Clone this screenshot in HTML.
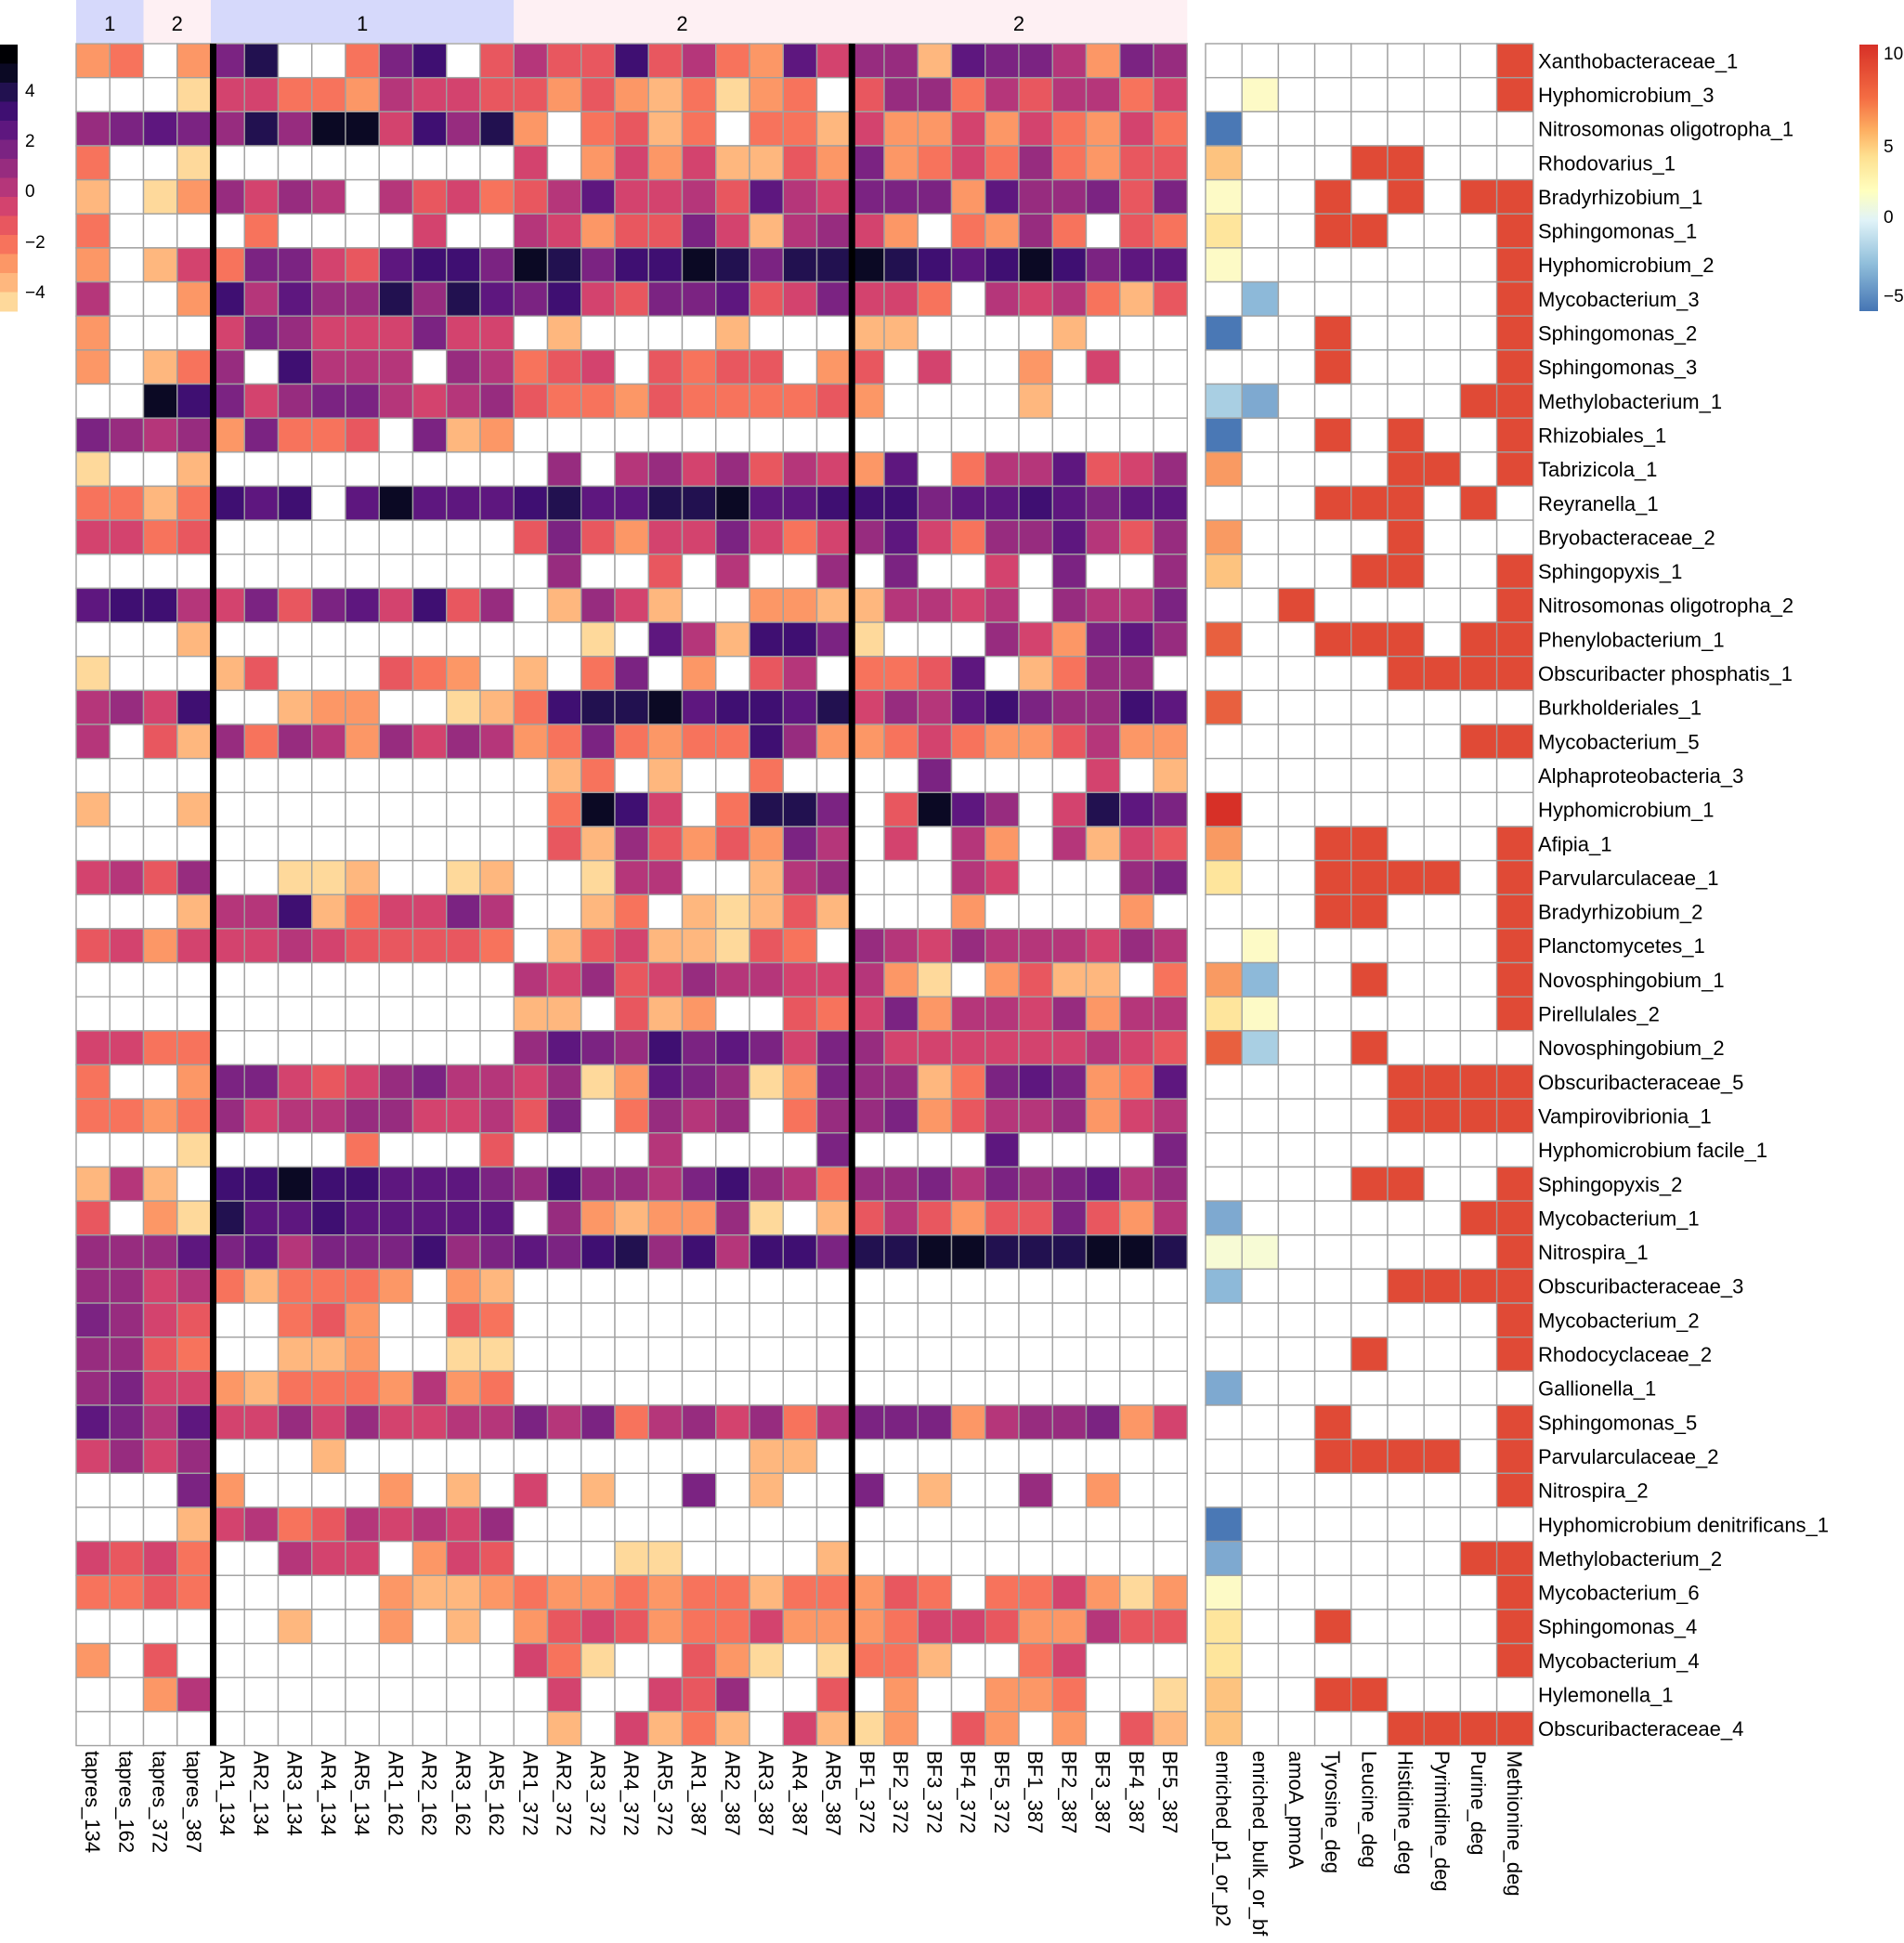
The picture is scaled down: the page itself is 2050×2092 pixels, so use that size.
<!DOCTYPE html>
<html><head><meta charset="utf-8"><style>
html,body{margin:0;padding:0;background:#fff;}
svg{display:block;font-family:"Liberation Sans",Arial,sans-serif;}
</style></head><body>
<div id="wrap"></div>
<script>
(function(){
var P={'0':'#0b0924','1':'#221150','2':'#3f0f72','3':'#5e177f','4':'#7b2382','5':'#972c7f','6':'#b5367a','7':'#d3436e','8':'#e8575f','9':'#f7735c','a':'#fc9766','b':'#feb77e','c':'#fed99b','W':'#ffffff'};
var W10="WWWWWWWWWW",W20=W10+W10;
var R=[
"a9Wa41WW942W86882869a3755b3446a45",
"WWWc7799a67788a8ab9ca9W8559686697",
"5434515007251aW98b9W99b7aa7a79a79",
"9WWcWWWWWWWWW7Wa7a7bb8a4a97959a88",
"bWca5756W68798637768367444a355484",
"9WWWW9WWWW7WW67a8847b657aW9a59W89",
"aWb794478322401422014110123202433",
"6WWa2635515134278443874779W6769b8",
"aWWW745777477WbWWWWbWWWbbWWWWbWWW",
"aWb95W2666W56987W8988Wa8W7WWaW7WW",
"WW02475446765899a899998aWWWWbWWWW",
"4565a4998W4ba"+W20,
"cWWbWWWWWWWWWW5W6575867a3W9663875",
"99b9232W3033321331103322243323433",
"7798WWWWWWWWW848a7747975379553685",
"WWWWWWWWWWWWWW5WW8W6WW5W4WW7W4WW5",
"3226748437285Wb57bWWaabb6676W5664",
"WWWbWWWWWWWWWWWcW36b224cWWW57a435",
"cWWWb8WWW89aWbW94WaW86W9983Wb955W",
"6572WWbaaWWcb92110322317563245523",
"6W8b5956a5756a949a9925aa979aa86aa",
"WWWWWWWWWWWWWWb9WbWW9WWWW4WWWW7Wb",
"bWWbWWWWWWWWWW9027W9114W8035W7134",
"WWWWWWWWWWWWWW8b58a8a46W7W6aW6b78",
"7685WWccbWWcbWWc66WWb65WWW67WWW54",
"WWWb662b97746WWb9Wbcb8bWWWaWWWWaW",
"87a7776788889Wb87bbc89W5675666756",
"WWWWWWWWWWWWW67587566776acWa8bbW9",
"WWWWWWWWWWWWWbbW8baWW8974a6675a66",
"7799WWWWWWWWW53452434745777777678",
"9WWa44787546675ca345ca455b9434a93",
"99a957665577684W9565W9554a8665a76",
"WWWcWWWW9WWW8WWWW6WWWW4WWWW3WWWW4",
"b6bW22022333452556425695546454365",
"8Wac133233333W5abaa5cWb868a8848a6",
"555343644425434215262241100111001",
"55769b999aWab"+W20,
"4578WW98aWW89"+W20,
"5589WWbbaWWcc"+W20,
"5477ab999a6a9"+W20,
"34637757577664649657596444a6554a7",
"7575WWWbWWWWWWWWWWWWbbW"+W10,
"WWW4aWWWWaWbW7WbWW4WbWW4WbWW5WaWW",
"WWWb769867675"+W20,
"7879WW677Wa78WWWccWWWWb"+W10,
"9989WWWWWabba9aa9a99b99a89W997aca",
"WWWWWWbWWaWbWa878a997aaa9778aa688",
"aW8WWWWWWWWWW79cWW8acWc99bWW97WWW",
"WWa6WWWWWWWWWW7WW785WW8WaWWaa9WWc",
"WWWWWWWWWWWWWWbW7b9bW7bcaW8aWaW8b"];
var A=["WW0000001","WP0000001","BW0000000","OW0011000","PW0101011","YW0110001","PW0000001","WL0000001","BW0100001","WW0100001",
"MK0000011","BW0101001","oW0001101","WW0111010","oW0001000","OW0011001","WW1000001","rW0111011","WW0001111","rW0000000",
"WW0000011","WW0000000","RW0000000","oW0110001","YW0111101","WW0110001","WP0000001","oL0010001","YP0000001","rM0010000",
"WW0001111","WW0001111","WW0000000","WW0011001","KW0000011","QQ0000001","LW0001111","WW0000001","WW0010001","KW0000000",
"WW0100001","WW0111101","WW0000001","BW0000000","KW0000011","PW0000001","YW0100001","YW0000001","OW0110000","OW0001111"];
var AC={'W':'#ffffff','B':'#4a78b5','L':'#8db9d9','M':'#a9cfe3','K':'#7ea9d0','P':'#fdfac6','Y':'#fee59c','O':'#fdc37f','o':'#f99a62','r':'#e8603f','R':'#d73027','Q':'#f7fbd5','0':'#ffffff','1':'#e04a36'};
var rows=["Xanthobacteraceae_1","Hyphomicrobium_3","Nitrosomonas oligotropha_1","Rhodovarius_1","Bradyrhizobium_1","Sphingomonas_1","Hyphomicrobium_2","Mycobacterium_3","Sphingomonas_2","Sphingomonas_3","Methylobacterium_1","Rhizobiales_1","Tabrizicola_1","Reyranella_1","Bryobacteraceae_2","Sphingopyxis_1","Nitrosomonas oligotropha_2","Phenylobacterium_1","Obscuribacter phosphatis_1","Burkholderiales_1","Mycobacterium_5","Alphaproteobacteria_3","Hyphomicrobium_1","Afipia_1","Parvularculaceae_1","Bradyrhizobium_2","Planctomycetes_1","Novosphingobium_1","Pirellulales_2","Novosphingobium_2","Obscuribacteraceae_5","Vampirovibrionia_1","Hyphomicrobium facile_1","Sphingopyxis_2","Mycobacterium_1","Nitrospira_1","Obscuribacteraceae_3","Mycobacterium_2","Rhodocyclaceae_2","Gallionella_1","Sphingomonas_5","Parvularculaceae_2","Nitrospira_2","Hyphomicrobium denitrificans_1","Methylobacterium_2","Mycobacterium_6","Sphingomonas_4","Mycobacterium_4","Hylemonella_1","Obscuribacteraceae_4"];
var cols=["tapres_134","tapres_162","tapres_372","tapres_387","AR1_134","AR2_134","AR3_134","AR4_134","AR5_134","AR1_162","AR2_162","AR3_162","AR5_162","AR1_372","AR2_372","AR3_372","AR4_372","AR5_372","AR1_387","AR2_387","AR3_387","AR4_387","AR5_387","BF1_372","BF2_372","BF3_372","BF4_372","BF5_372","BF1_387","BF2_387","BF3_387","BF4_387","BF5_387"];
var acols=["enriched_p1_or_p2","enriched_bulk_or_bf","amoA_pmoA","Tyrosine_deg","Leucine_deg","Histidine_deg","Pyrimidine_deg","Purine_deg","Methionine_deg"];
var X0=82,CW=36.25,Y0=47,RH=36.65,AX=1298,AW=39.2;
var h='<svg width="2050" height="2092" viewBox="0 0 2050 2092" xmlns="http://www.w3.org/2000/svg"><defs><linearGradient id="rg" x1="0" y1="0" x2="0" y2="1"><stop offset="0" stop-color="#d73027"/><stop offset="0.2" stop-color="#f46d43"/><stop offset="0.32" stop-color="#fdae61"/><stop offset="0.42" stop-color="#fee090"/><stop offset="0.55" stop-color="#ffffbf"/><stop offset="0.66" stop-color="#e0f3f8"/><stop offset="0.82" stop-color="#91bfdb"/><stop offset="1" stop-color="#4575b4"/></linearGradient></defs>';
function band(c0,c1,col){h+='<rect x="'+(X0+c0*CW)+'" y="0" width="'+((c1-c0)*CW)+'" height="46" fill="'+col+'"/>';}
band(0,2,'#d6d9fb');band(2,4,'#fef0f3');band(4,13,'#d6d9fb');band(13,33,'#fef0f3');
[[1,'1'],[3,'2'],[8.5,'1'],[18,'2'],[28,'2']].forEach(function(t){h+='<text x="'+(X0+t[0]*CW)+'" y="33" font-size="22" text-anchor="middle" fill="#000">'+t[1]+'</text>';});
for(var r=0;r<50;r++){var s=R[r];for(var c=0;c<33;c++){var ch=s.charAt(c)||'W';h+='<rect x="'+(X0+c*CW).toFixed(2)+'" y="'+(Y0+r*RH).toFixed(2)+'" width="'+CW+'" height="'+RH+'" fill="'+(P[ch]||'#fff')+'" stroke="#a0a0a0" stroke-width="1.4"/>';}
 var a=A[r];for(var k=0;k<9;k++){h+='<rect x="'+(AX+k*AW).toFixed(2)+'" y="'+(Y0+r*RH).toFixed(2)+'" width="'+AW+'" height="'+RH+'" fill="'+AC[a.charAt(k)]+'" stroke="#a0a0a0" stroke-width="1.4"/>';}
 h+='<text x="1656" y="'+(Y0+r*RH+RH/2+8).toFixed(1)+'" font-size="22" fill="#000">'+rows[r]+'</text>';}
h+='<rect x="'+(X0+4*CW-1)+'" y="'+Y0+'" width="7" height="'+(50*RH)+'" fill="#000"/>';
h+='<rect x="'+(X0+23*CW-2)+'" y="'+Y0+'" width="7" height="'+(50*RH)+'" fill="#000"/>';
for(var c=0;c<33;c++){var cx=X0+c*CW+CW/2-8;h+='<text transform="translate('+cx.toFixed(1)+',1885) rotate(90)" font-size="22" fill="#000">'+cols[c]+'</text>';}
for(var k=0;k<9;k++){var cx2=AX+k*AW+AW/2-8;h+='<text transform="translate('+cx2.toFixed(1)+',1885) rotate(90)" font-size="22" fill="#000">'+acols[k]+'</text>';}
var L=['#000004','#0b0924','#221150','#3f0f72','#5e177f','#7b2382','#972c7f','#b5367a','#d3436e','#e8575f','#f7735c','#fc9766','#feb77e','#fed99b'];
for(var i=0;i<14;i++){h+='<rect x="0" y="'+(48+i*20.5)+'" width="19" height="21" fill="'+L[i]+'"/>';}
[['4',97],['2',151],['0',205],['\u22122',260],['\u22124',314]].forEach(function(t){h+='<text x="27" y="'+(t[1]+7)+'" font-size="19" fill="#000">'+t[0]+'</text>';});
h+='<rect x="2002" y="48" width="20" height="287" fill="url(#rg)"/>';
[['10',57],['5',157],['0',233],['\u22125',318]].forEach(function(t){h+='<text x="2028" y="'+(t[1]+7)+'" font-size="19" fill="#000">'+t[0]+'</text>';});
h+='</svg>';
document.getElementById('wrap').innerHTML=h;
})();
</script>
</body></html>
